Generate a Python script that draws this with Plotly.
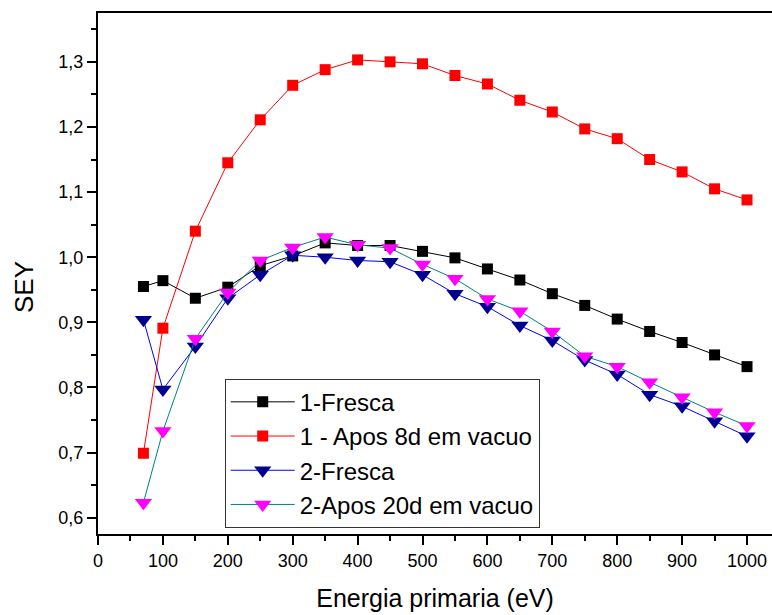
import plotly.graph_objects as go

energy = [70, 100, 150, 200, 250, 300, 350, 400, 450, 500, 550, 600, 650, 700, 750, 800, 850, 900, 950, 1000]

fresca1 = [0.955, 0.964, 0.937, 0.954, 0.987, 1.002, 1.022, 1.018, 1.018, 1.009, 0.999, 0.982, 0.965, 0.944, 0.926, 0.905, 0.886, 0.869, 0.850, 0.832]
apos8d = [0.699, 0.891, 1.040, 1.145, 1.211, 1.264, 1.288, 1.303, 1.300, 1.297, 1.279, 1.266, 1.241, 1.223, 1.197, 1.182, 1.150, 1.131, 1.105, 1.088]
fresca2 = [0.904, 0.797, 0.863, 0.937, 0.973, 1.003, 1.000, 0.995, 0.993, 0.973, 0.944, 0.924, 0.895, 0.872, 0.842, 0.820, 0.789, 0.771, 0.748, 0.725]
apos20d = [0.623, 0.733, 0.875, 0.946, 0.995, 1.015, 1.031, 1.019, 1.014, 0.989, 0.967, 0.936, 0.917, 0.886, 0.848, 0.832, 0.808, 0.785, 0.762, 0.741]

names = ["1-Fresca", "1 - Apos 8d em vacuo", "2-Fresca", "2-Apos 20d em vacuo"]

x_ticks = [0, 100, 200, 300, 400, 500, 600, 700, 800, 900, 1000]
y_ticks = [0.6, 0.7, 0.8, 0.9, 1.0, 1.1, 1.2, 1.3]
y_tick_text = ["0,6", "0,7", "0,8", "0,9", "1,0", "1,1", "1,2", "1,3"]

series = [
    (fresca1, names[0], "black", "black", "square", 11),
    (apos8d, names[1], "red", "red", "square", 11),
    (fresca2, names[2], "blue", "#000090", "triangle-down", 15),
    (apos20d, names[3], "#008080", "#ff00ff", "triangle-down", 15),
]

fig = go.Figure()
for ys, nm, lc, mc, sym, sz in series:
    fig.add_trace(go.Scatter(
        x=energy, y=ys, name=nm, mode="lines+markers",
        line=dict(color=lc, width=1),
        marker=dict(symbol=sym, size=sz, color=mc, line=dict(width=0)),
    ))

font = "Arial, Liberation Sans, sans-serif"
fig.update_layout(
    width=772, height=615,
    margin=dict(l=98, r=0, t=13, b=81),
    paper_bgcolor="white", plot_bgcolor="white",
    font=dict(family=font, color="black"),
    showlegend=True,
    legend=dict(
        x=0.188, y=0.298, xanchor="left", yanchor="top",
        bgcolor="white", bordercolor="#333333", borderwidth=1,
        font=dict(size=24, family=font, color="black"),
        tracegroupgap=0, itemwidth=64,
    ),
    xaxis=dict(
        range=[0, 1038.5], tickmode="array", tickvals=x_ticks,
        ticks="outside", ticklen=9, tickwidth=2, tickcolor="black",
        minor=dict(dtick=50, ticks="outside", ticklen=5, tickwidth=2, tickcolor="black"),
        showline=True, linecolor="black", linewidth=2, mirror=True,
        showgrid=False, zeroline=False,
        tickfont=dict(size=18, family=font),
        title=dict(text="Energia primaria (eV)", font=dict(size=25, family=font), standoff=20),
    ),
    yaxis=dict(
        range=[0.575, 1.375], tickmode="array", tickvals=y_ticks, ticktext=y_tick_text,
        ticks="outside", ticklen=9, tickwidth=2, tickcolor="black",
        minor=dict(dtick=0.05, tick0=0.55, ticks="outside", ticklen=5, tickwidth=2, tickcolor="black"),
        showline=True, linecolor="black", linewidth=2, mirror=False,
        showgrid=False, zeroline=False,
        tickfont=dict(size=18, family=font),
    ),
    annotations=[dict(
        text="SEY", textangle=-90, xref="paper", yref="paper",
        x=(24 - 98) / 674, y=(534 - 287) / 521, xanchor="center", yanchor="middle",
        showarrow=False, font=dict(size=26, family=font, color="black"),
    )],
)

fig.write_html("out.html")
